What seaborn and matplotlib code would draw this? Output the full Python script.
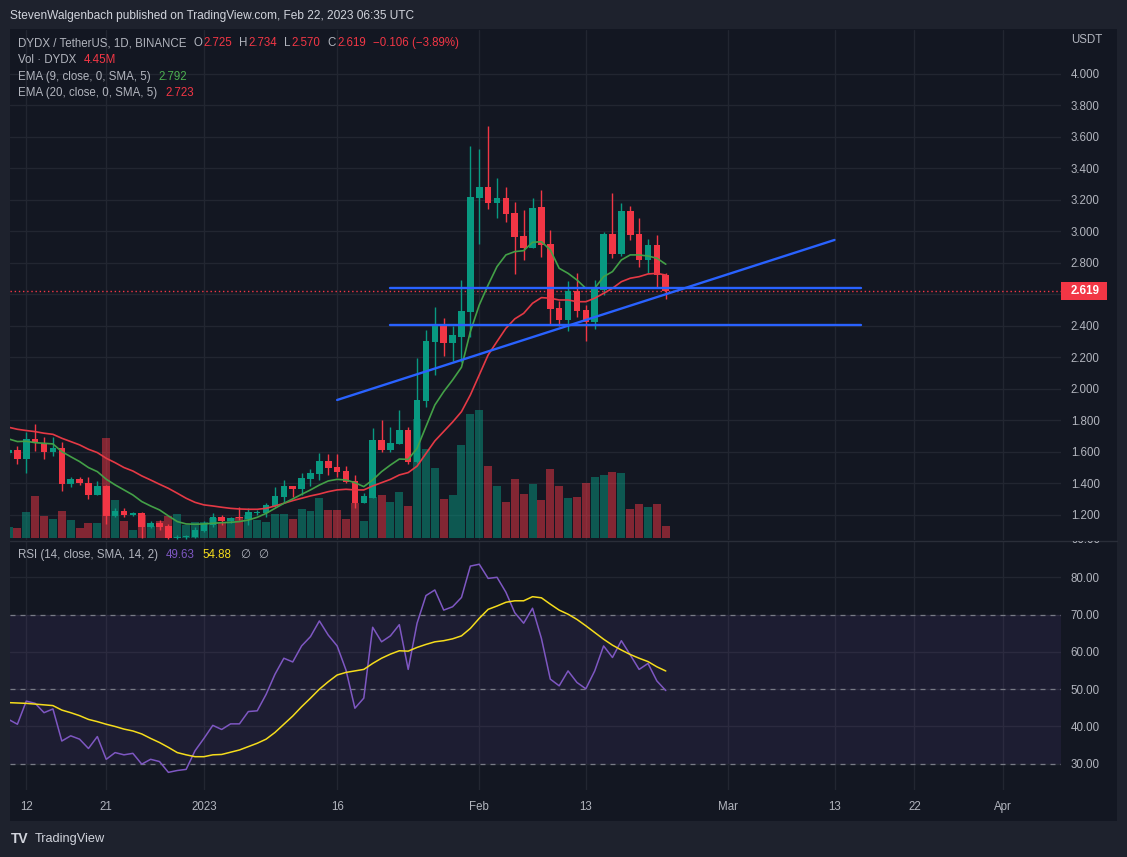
import numpy as np
import pandas as pd
import matplotlib
matplotlib.use("Agg")
import matplotlib.pyplot as plt
import seaborn as sns
from matplotlib.patches import Rectangle
from matplotlib.lines import Line2D
from matplotlib.transforms import Bbox, TransformedBbox

# ---------------- data ----------------
start_date = "2022-12-10"
opens = [1.592, 1.613, 1.558, 1.683, 1.659, 1.602, 1.626, 1.399, 1.429, 1.405,
         1.327, 1.384, 1.196, 1.225, 1.200, 1.210, 1.124, 1.149, 1.130, 1.056,
         1.060, 1.062, 1.098, 1.137, 1.187, 1.162, 1.189, 1.173, 1.215, 1.215,
         1.257, 1.316, 1.384, 1.365, 1.429, 1.462, 1.543, 1.505, 1.479, 1.416,
         1.278, 1.306, 1.676, 1.613, 1.653, 1.740, 1.539, 1.926, 2.300, 2.411,
         2.294, 2.330, 2.491, 3.215, 3.282, 3.183, 3.213, 3.117, 2.971, 2.897,
         3.156, 2.920, 2.514, 2.438, 2.622, 2.502, 2.427, 2.629, 2.984, 2.859,
         3.130, 2.984, 2.821, 2.914, 2.725]
highs = [1.620, 1.638, 1.727, 1.778, 1.695, 1.695, 1.664, 1.441, 1.441, 1.441,
         1.416, 1.390, 1.244, 1.244, 1.218, 1.218, 1.162, 1.168, 1.140, 1.075,
         1.075, 1.126, 1.164, 1.213, 1.200, 1.190, 1.253, 1.242, 1.232, 1.274,
         1.380, 1.422, 1.384, 1.465, 1.492, 1.592, 1.587, 1.587, 1.511, 1.454,
         1.337, 1.750, 1.803, 1.761, 1.867, 1.761, 2.199, 2.375, 2.521, 2.453,
         2.402, 2.692, 3.543, 3.524, 3.670, 3.340, 3.282, 3.187, 3.136, 3.213,
         3.263, 3.010, 2.561, 2.686, 2.734, 2.533, 2.692, 2.997, 3.242, 3.179,
         3.162, 3.084, 2.950, 2.978, 2.734]
lows = [1.580, 1.526, 1.465, 1.608, 1.558, 1.577, 1.355, 1.380, 1.391, 1.304,
        1.327, 1.145, 1.190, 1.190, 1.196, 1.056, 1.115, 1.105, 1.045, 1.045,
        1.048, 1.052, 1.090, 1.126, 1.137, 1.150, 1.168, 1.137, 1.200, 1.189,
        1.253, 1.285, 1.316, 1.327, 1.384, 1.422, 1.454, 1.443, 1.405, 1.247,
        1.274, 1.306, 1.602, 1.600, 1.650, 1.522, 1.530, 1.888, 2.089, 2.212,
        2.178, 2.174, 2.332, 2.923, 3.143, 3.088, 3.062, 2.730, 2.819, 2.897,
        2.840, 2.413, 2.402, 2.370, 2.455, 2.307, 2.383, 2.597, 2.834, 2.844,
        2.946, 2.777, 2.734, 2.650, 2.570]
closes = [1.613, 1.558, 1.683, 1.659, 1.602, 1.626, 1.399, 1.429, 1.405, 1.327,
          1.384, 1.196, 1.225, 1.200, 1.210, 1.124, 1.149, 1.124, 1.056, 1.060,
          1.062, 1.105, 1.145, 1.187, 1.162, 1.183, 1.179, 1.221, 1.218, 1.263,
          1.320, 1.384, 1.365, 1.435, 1.467, 1.543, 1.498, 1.475, 1.409, 1.278,
          1.321, 1.676, 1.613, 1.657, 1.740, 1.539, 1.930, 2.305, 2.411, 2.294,
          2.343, 2.495, 3.219, 3.282, 3.183, 3.213, 3.113, 2.967, 2.897, 3.149,
          2.916, 2.508, 2.438, 2.622, 2.497, 2.427, 2.637, 2.984, 2.859, 3.130,
          2.980, 2.821, 2.914, 2.725, 2.619]
volumes_m = [4.1, 3.7, 9.6, 15.6, 8.2, 7.0, 10.0, 6.7, 3.7, 5.6,
             5.6, 37.1, 14.1, 6.3, 3.0, 8.5, 4.5, 6.3, 8.2, 8.9,
             4.8, 5.9, 5.9, 7.4, 5.9, 7.4, 7.8, 8.5, 6.7, 5.9,
             8.9, 8.9, 7.0, 10.8, 10.0, 14.8, 10.4, 10.4, 7.0, 13.0,
             6.3, 15.2, 16.0, 13.4, 17.1, 11.9, 44.1, 33.0, 26.0, 14.5,
             16.0, 34.5, 46.0, 47.5, 26.7, 19.3, 13.4, 21.9, 16.3, 20.0,
             14.1, 25.6, 19.3, 14.8, 15.2, 20.4, 22.6, 23.4, 24.5, 24.1,
             10.8, 12.6, 11.5, 12.6, 4.45]
ema9 = [1.683, 1.666, 1.668, 1.659, 1.655, 1.651, 1.602, 1.570, 1.539, 1.501,
        1.475, 1.427, 1.391, 1.359, 1.327, 1.285, 1.257, 1.232, 1.194, 1.158,
        1.143, 1.141, 1.143, 1.147, 1.151, 1.153, 1.158, 1.168, 1.185, 1.210,
        1.242, 1.274, 1.302, 1.331, 1.359, 1.390, 1.416, 1.426, 1.422, 1.405,
        1.380, 1.422, 1.475, 1.517, 1.555, 1.553, 1.623, 1.761, 1.898, 1.983,
        2.057, 2.138, 2.364, 2.533, 2.660, 2.777, 2.851, 2.872, 2.878, 2.931,
        2.935, 2.883, 2.766, 2.734, 2.692, 2.639, 2.639, 2.713, 2.745, 2.819,
        2.851, 2.851, 2.844, 2.830, 2.792]
ema20 = [1.757, 1.744, 1.736, 1.729, 1.719, 1.712, 1.687, 1.666, 1.645, 1.617,
         1.596, 1.560, 1.532, 1.501, 1.479, 1.448, 1.422, 1.395, 1.369, 1.338,
         1.306, 1.280, 1.264, 1.257, 1.249, 1.242, 1.238, 1.236, 1.236, 1.242,
         1.257, 1.274, 1.291, 1.306, 1.321, 1.333, 1.348, 1.359, 1.363, 1.359,
         1.359, 1.384, 1.405, 1.426, 1.454, 1.469, 1.510, 1.590, 1.670, 1.730,
         1.790, 1.856, 1.962, 2.089, 2.216, 2.301, 2.385, 2.445, 2.480, 2.544,
         2.580, 2.576, 2.565, 2.565, 2.554, 2.554, 2.576, 2.607, 2.639, 2.681,
         2.703, 2.713, 2.730, 2.734, 2.723]
rsi = [41.9, 40.6, 46.8, 46.2, 43.7, 44.7, 36.1, 37.5, 36.6, 34.1,
       37.3, 31.2, 33.0, 32.4, 32.8, 29.9, 31.2, 30.6, 27.7, 28.2,
       28.5, 33.5, 36.8, 40.3, 39.2, 40.7, 40.7, 44.0, 44.2, 48.6,
       54.0, 58.3, 57.3, 61.6, 64.1, 68.3, 64.5, 61.6, 55.1, 44.9,
       47.6, 66.6, 62.7, 64.3, 67.3, 55.3, 67.7, 75.1, 76.6, 71.2,
       72.1, 74.6, 83.0, 83.5, 79.7, 80.0, 76.0, 70.5, 67.7, 71.7,
       63.6, 52.7, 50.9, 54.9, 51.8, 50.1, 54.9, 61.6, 58.5, 63.0,
       59.2, 55.3, 56.9, 52.2, 49.63]
rsi_ma = [46.4, 46.3, 46.2, 46.0, 45.8, 45.6, 44.4, 43.7, 42.9, 41.9,
          41.3, 40.6, 40.0, 39.3, 38.8, 38.0, 36.8, 35.7, 34.4, 33.0,
          32.4, 31.9, 31.9, 32.4, 32.5, 33.1, 33.7, 34.6, 35.5, 36.6,
          38.4, 40.6, 42.8, 45.3, 47.6, 50.0, 52.0, 53.8, 54.5, 54.9,
          55.3, 56.9, 58.3, 59.4, 60.3, 60.2, 61.2, 62.0, 62.7, 63.0,
          63.5, 64.3, 66.3, 69.0, 71.4, 72.3, 73.3, 73.7, 73.7, 74.8,
          74.5, 72.8, 71.2, 70.1, 68.7, 67.0, 65.2, 63.4, 61.8, 60.5,
          59.3, 58.3, 57.4, 56.0, 54.88]

level_prices = [2.638, 2.406]
level_dates = ["2023-01-22", "2023-03-16"]
trend_dates = ["2023-01-16", "2023-03-13"]
trend_prices = [1.930, 2.946]

tick_dates = ["2022-12-12", "2022-12-21", "2023-01-01", "2023-01-16", "2023-02-01",
              "2023-02-13", "2023-03-01", "2023-03-13", "2023-03-22", "2023-04-01"]
tick_labels = ["12", "21", "2023", "16", "Feb", "13", "Mar", "13", "22", "Apr"]
price_ticks = [1.2, 1.4, 1.6, 1.8, 2.0, 2.2, 2.4, 2.6, 2.8, 3.0, 3.2, 3.4, 3.6, 3.8, 4.0]
rsi_ticks = [30, 40, 50, 60, 70, 80]
rsi_levels = [70, 50, 30]

# ---------------- style ----------------
BG = "#131722"
OUTER = "#1e222d"
GRID = "#222631"
TXT = "#b2b5be"
UP = "#089981"
DN = "#f23645"
EMA9C = "#43a047"
EMA20C = "#e53945"
BLUE = "#2962ff"
PURP = "#7e57c2"
YEL = "#f5dc1c"
FS = 8.3

sns.set_theme(style="dark")
plt.rcParams["font.family"] = ["Liberation Sans", "DejaVu Sans"]
plt.rcParams["axes.facecolor"] = BG
plt.rcParams["figure.facecolor"] = OUTER

df = pd.DataFrame({
    "date": pd.date_range(start_date, periods=len(closes), freq="D"),
    "open": opens, "high": highs, "low": lows, "close": closes,
    "volume": volumes_m, "ema9": ema9, "ema20": ema20,
    "rsi": rsi, "rsi_ma": rsi_ma,
})

W, H = 1127, 857
fig = plt.figure(figsize=(W / 100, H / 100), dpi=100, facecolor=OUTER)


def frect(x0, y0, x1, y1):
    return [x0 / W, 1 - y1 / H, (x1 - x0) / W, (y1 - y0) / H]


fig.add_artist(Rectangle((10 / W, 1 - 821 / H), 1107 / W, 792 / H,
                         transform=fig.transFigure, fc=BG, ec="none", zorder=-5))

PR = frect(10, 30, 1061, 540)
ax_p = fig.add_axes(PR)
ax_v = fig.add_axes(PR, sharex=ax_p)
ax_c = fig.add_axes(PR, sharex=ax_p, sharey=ax_p)
ax_r = fig.add_axes(frect(10, 541, 1061, 790), sharex=ax_p)
ax_p.set_zorder(1)
ax_v.set_zorder(2)
ax_c.set_zorder(3)
ax_r.set_zorder(1)
for a in (ax_v, ax_c):
    a.patch.set_visible(False)
    a.axis("off")
for a in (ax_p, ax_r):
    a.set_facecolor(BG)
    for s in a.spines.values():
        s.set_visible(False)

x_left = df["date"].iloc[0] + pd.Timedelta(hours=4)
x_right = df["date"].iloc[0] + pd.Timedelta(days=118.5)

# ----- price pane -----
up = df["close"].values >= df["open"].values
cols = np.where(up, UP, DN)
body_lo = np.minimum(df["open"].values, df["close"].values)
body_h = np.maximum(np.abs(df["close"].values - df["open"].values), 0.004)

ax_v.bar(df["date"], df["volume"], width=0.9, color=cols, alpha=0.5, lw=0)
ax_v.set_ylim(-0.74, 188.5)

ax_c.vlines(df["date"], df["low"], df["high"], colors=cols, lw=1, zorder=3)
ax_c.bar(df["date"], body_h, bottom=body_lo, width=0.74, color=cols, lw=0, zorder=4)
sns.lineplot(data=df, x="date", y="ema20", ax=ax_c, color=EMA20C, lw=1.2, zorder=5)
sns.lineplot(data=df, x="date", y="ema9", ax=ax_c, color=EMA9C, lw=1.2, zorder=5)
ax_c.plot(pd.to_datetime(trend_dates), trend_prices, color=BLUE, lw=1.7, zorder=6)
for lp in level_prices:
    ax_c.plot(pd.to_datetime(level_dates), [lp, lp], color=BLUE, lw=1.7, zorder=6)
ax_c.axhline(df["close"].iloc[-1], color=DN, lw=1, ls=(0, (1, 2)), zorder=2)

last = df["close"].iloc[-1]
ax_p.set_ylim(1.041, 4.279)
ax_p.set_yticks(price_ticks)
# the 2.600 label sits under the last-price tag, as in the reference
ax_p.set_yticklabels(["" if abs(v - last) < 0.05 else f"{v:.3f}" for v in price_ticks])
ax_p.yaxis.tick_right()
ax_p.tick_params(axis="y", length=0, pad=7, labelcolor=TXT, labelsize=FS)
ax_p.set_xticks(pd.to_datetime(tick_dates))
ax_p.tick_params(axis="x", length=0, labelbottom=False)
ax_p.grid(True, color=GRID, lw=1)

# price tag
span = 4.279 - 1.041
tag_h = 18 * span / 510
ax_p.add_patch(Rectangle((1.0, last - tag_h / 2), 46 / 1051, tag_h,
                         transform=ax_p.get_yaxis_transform(), clip_on=False,
                         fc=DN, ec="none", zorder=10))
ax_p.text(1 + 10 / 1051, last, f"{last:.3f}", transform=ax_p.get_yaxis_transform(),
          va="center", ha="left", color="white", fontsize=FS, fontweight="bold",
          clip_on=False, zorder=11)

# ----- RSI pane -----
ax_r.axhspan(30, 70, color=PURP, alpha=0.1, lw=0)
for lv in rsi_levels:
    ax_r.axhline(lv, color="#787b86", lw=0.9, ls=(0, (4, 4)))
sns.lineplot(data=df, x="date", y="rsi", ax=ax_r, color=PURP, lw=1.1)
sns.lineplot(data=df, x="date", y="rsi_ma", ax=ax_r, color=YEL, lw=1.1)
ax_r.set_ylim(22.97, 89.73)
ax_r.set_yticks(rsi_ticks)
ax_r.set_yticklabels([f"{v:.2f}" for v in rsi_ticks])
ax_r.yaxis.tick_right()
ax_r.tick_params(axis="y", length=0, pad=7, labelcolor=TXT, labelsize=FS)
ax_r.set_xticks(pd.to_datetime(tick_dates))
ax_r.set_xticklabels(tick_labels)
ax_r.tick_params(axis="x", length=0, pad=8, labelcolor=TXT, labelsize=FS)
ax_r.grid(True, color=GRID, lw=1)
ax_r.set_xlabel("")
ax_r.set_ylabel("")
ax_c.set_xlabel("")
ax_c.set_ylabel("")
ax_p.set_xlim(x_left, x_right)

t90 = fig.text(1 + 10 / 1051, 90, "90.00", transform=ax_r.get_yaxis_transform(),
               va="center", ha="left", color=TXT, fontsize=FS)
t90.set_clip_box(TransformedBbox(Bbox.from_extents(0, 0, 1.1, 1.0), ax_r.transAxes))
t90.set_clip_on(True)

fig.add_artist(Line2D([10 / W, 1117 / W], [1 - 540.5 / H] * 2,
                      transform=fig.transFigure, color="#2a2e39", lw=1))

# ----- header texts -----
renderer = fig.canvas.get_renderer()


def write_segments(segs, x_px, base_px, size=FS):
    x = x_px
    for txt, col, gap in segs:
        t = fig.text(x / W, 1 - base_px / H, txt, color=col, fontsize=size,
                     ha="left", va="baseline")
        x += t.get_window_extent(renderer).width + gap


fig.text(10 / W, 1 - 19 / H, "StevenWalgenbach published on TradingView.com, Feb 22, 2023 06:35 UTC",
         color="#d1d4dc", fontsize=8.6, ha="left", va="baseline")

write_segments([("DYDX / TetherUS, 1D, BINANCE", TXT, 7), ("O", TXT, 1), ("2.725", DN, 7),
                ("H", TXT, 1), ("2.734", DN, 7), ("L", TXT, 1), ("2.570", DN, 7),
                ("C", TXT, 1), ("2.619", DN, 7), ("\u22120.106 (\u22123.89%)", DN, 0)], 18, 46)
write_segments([("Vol \u00b7 DYDX", TXT, 8), ("4.45M", DN, 0)], 18, 63)
write_segments([("EMA (9, close, 0, SMA, 5)", TXT, 8), ("2.792", "#4caf50", 0)], 18, 80)
write_segments([("EMA (20, close, 0, SMA, 5)", TXT, 8), ("2.723", DN, 0)], 18, 96)
write_segments([("RSI (14, close, SMA, 14, 2)", TXT, 8), ("49.63", PURP, 8), ("54.88", YEL, 8),
                ("\u2205", TXT, 8), ("\u2205", TXT, 0)], 18, 558)

fig.text(1071 / W, 1 - 40 / H, "USDT", color=TXT, fontsize=FS, ha="left", va="center")

# ----- footer logo -----
fig.text(11 / W, 1 - 839 / H, "TV", color="#d1d4dc", fontsize=10, fontweight="heavy",
         ha="left", va="center")
fig.text(35 / W, 1 - 839 / H, "TradingView", color="#d1d4dc", fontsize=9.2,
         ha="left", va="center")

fig.savefig("out.png", dpi=100, facecolor=OUTER)
